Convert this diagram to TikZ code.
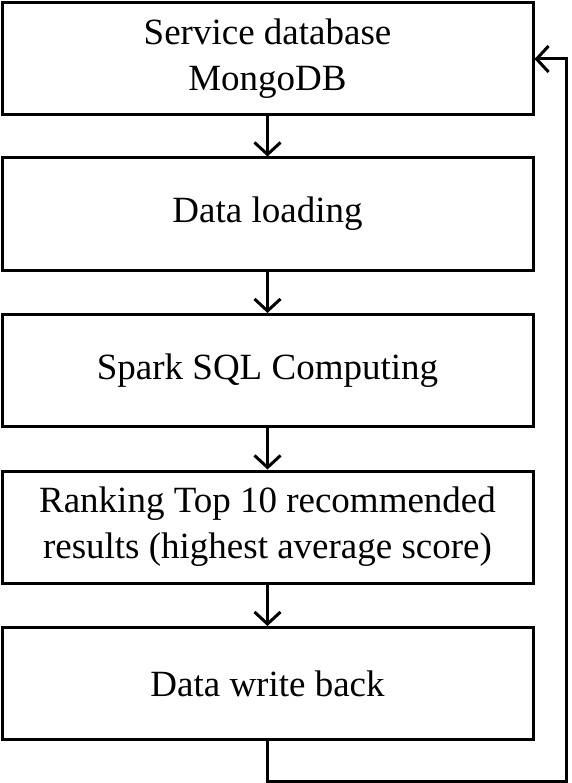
\documentclass[tikz,border=0pt]{standalone}
\usepackage{fontspec}
\setmainfont{Liberation Serif}
\usetikzlibrary{arrows.meta}
\begin{document}
\begin{tikzpicture}[x=1pt,y=1pt,
  stepbox/.style={draw=black, line width=3pt, rectangle, inner sep=0pt,
    minimum width=531pt, minimum height=112pt, align=center,
    font=\fontsize{37}{46}\selectfont},
  flow/.style={line width=3pt, -{Straight Barb[length=12pt,width=26pt,line width=3pt]}}]
\useasboundingbox (0,0) rectangle (571,-783);
\node[stepbox] (b1) at (267.5,-59) {Service database\\MongoDB};
\node[stepbox] (b2) at (267.5,-214) {Data loading};
\node[stepbox] (b3) at (267.5,-370.5) {Spark SQL Computing};
\node[stepbox] (b4) at (267.5,-527) {Ranking Top 10 recommended\\results (highest average score)};
\node[stepbox] (b5) at (267.5,-683.5) {Data write back};
\coordinate (c1) at (267.5,-781);
\coordinate (c2) at (566,-781);
\coordinate (c3) at (566,-59);
\draw[flow] (b1) -- (b2);
\draw[flow] (b2) -- (b3);
\draw[flow] (b3) -- (b4);
\draw[flow] (b4) -- (b5);
\draw[flow] (b5.south) -- (c1) -- (c2) -- (c3) -- (b1.east);
\end{tikzpicture}
\end{document}
